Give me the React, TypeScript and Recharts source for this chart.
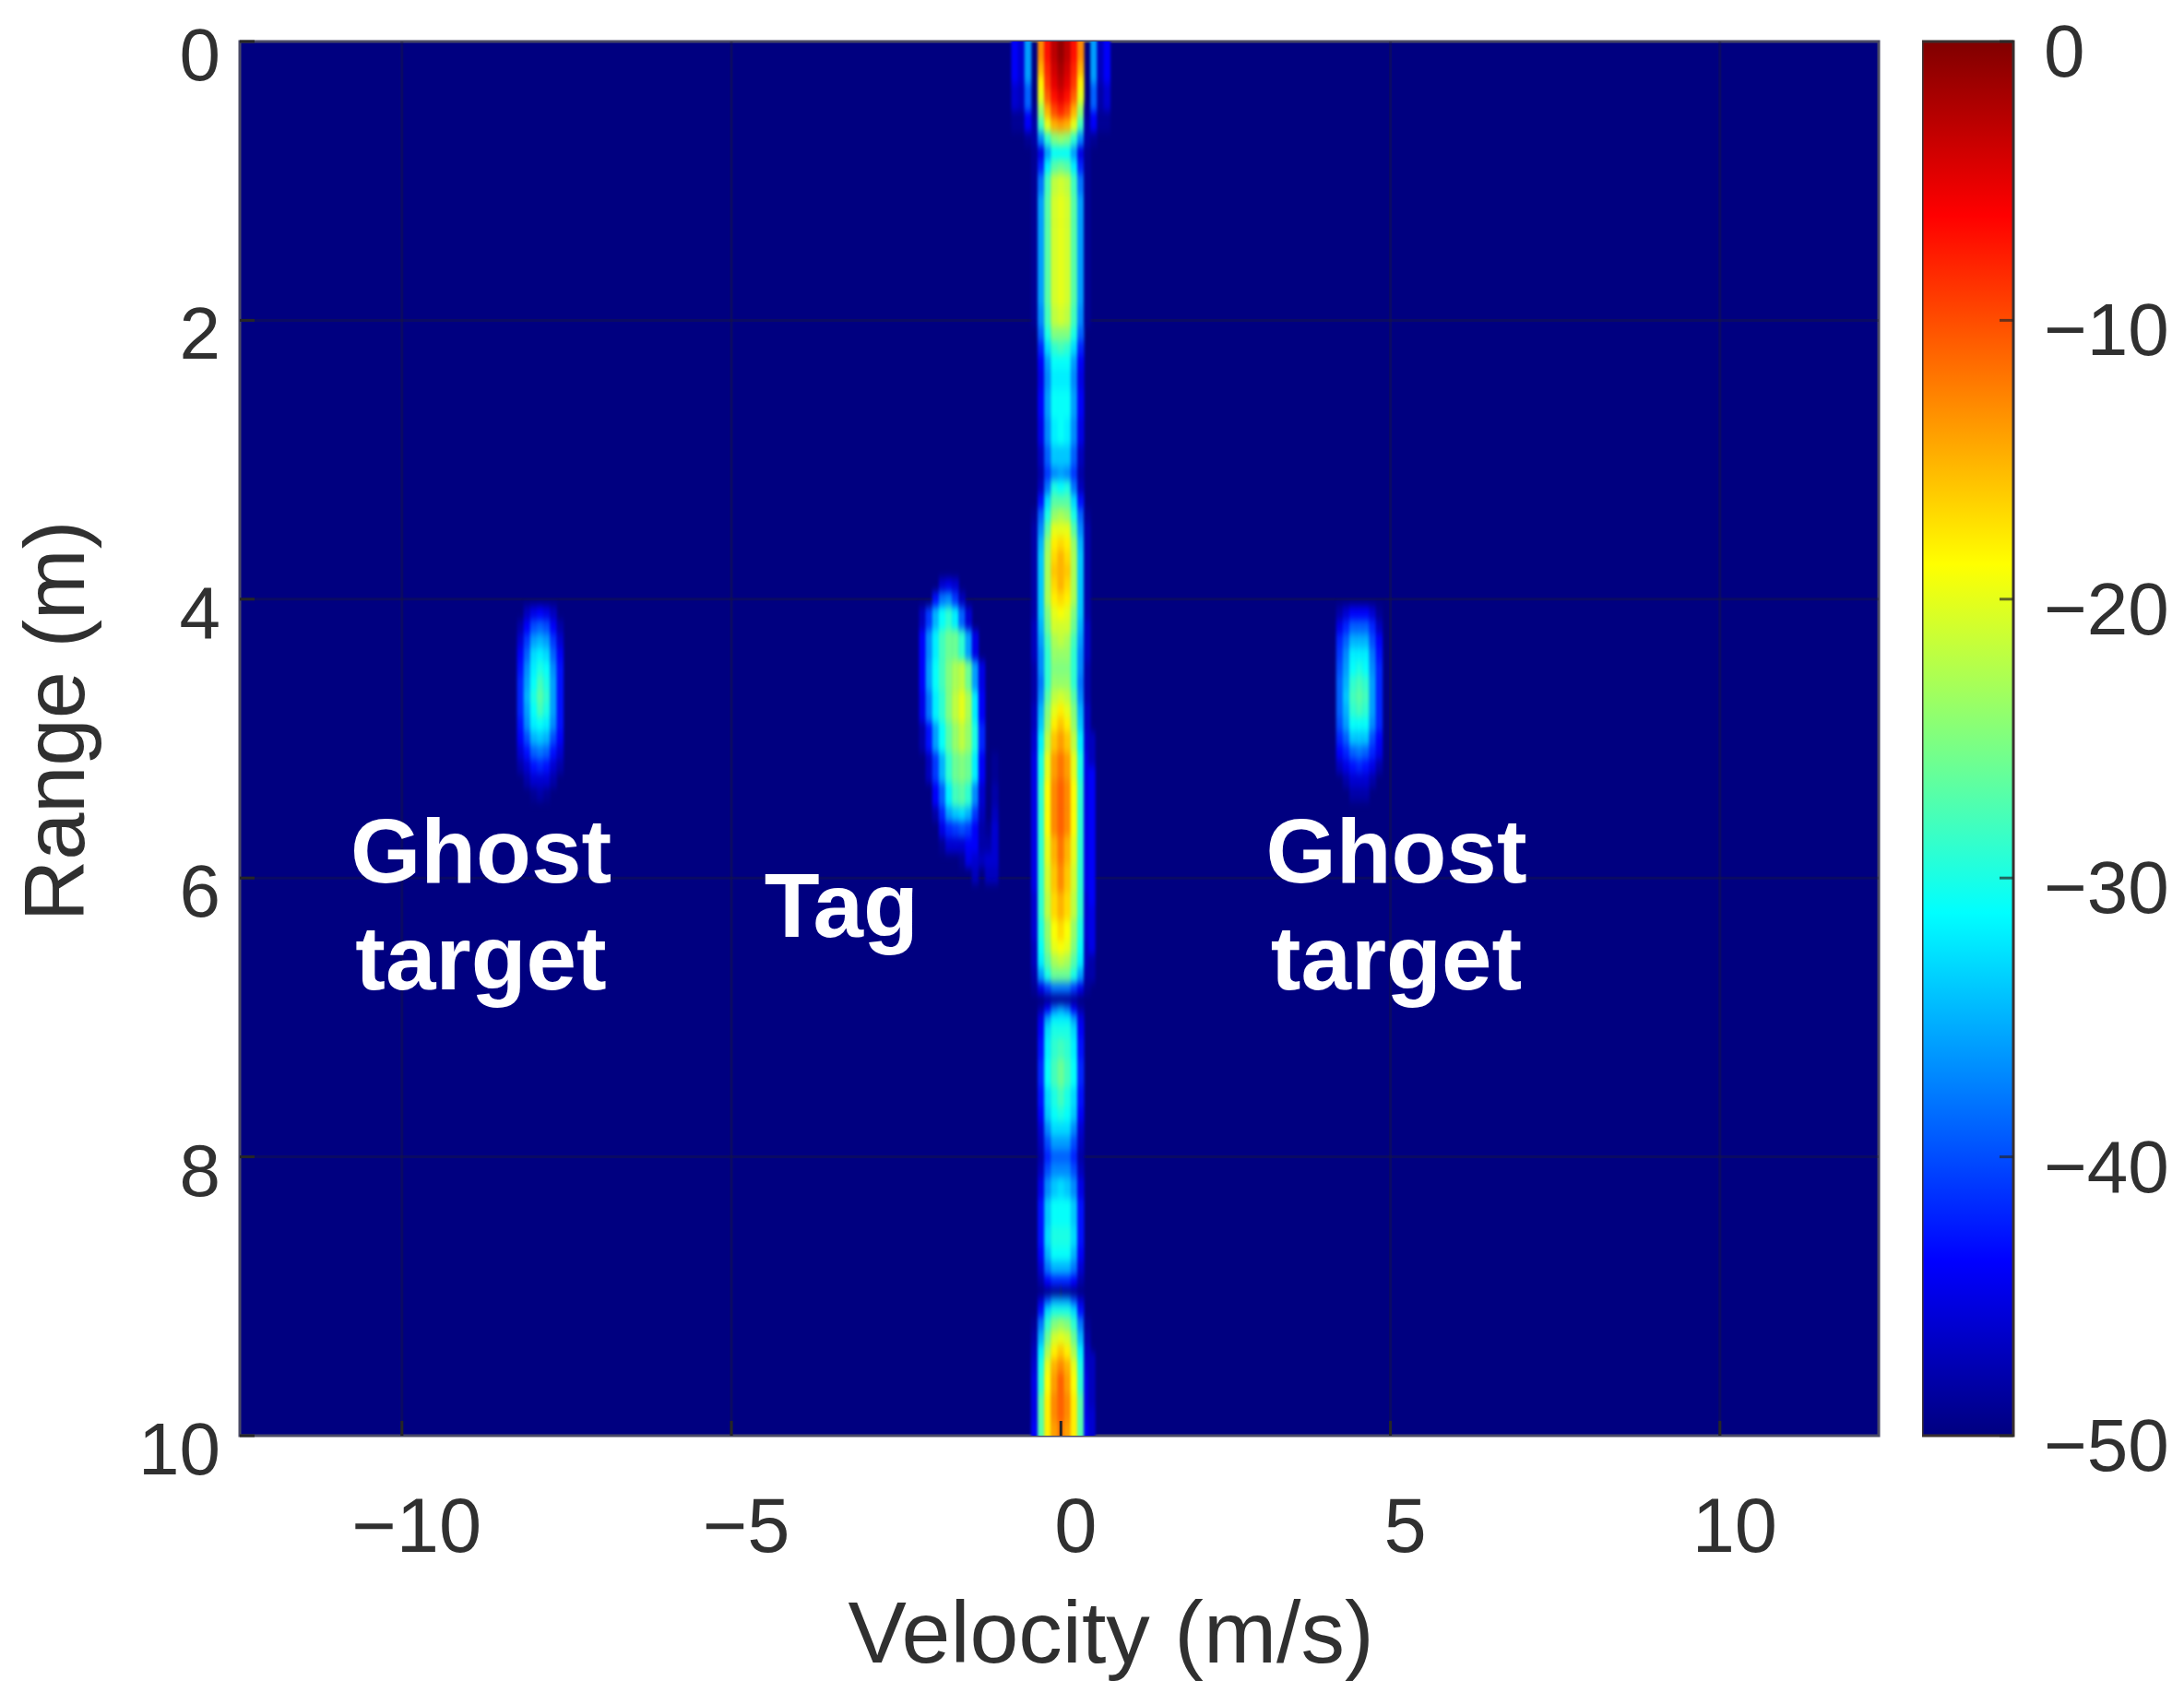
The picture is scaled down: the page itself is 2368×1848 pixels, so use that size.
import {
  Bar,
  BarChart,
  CartesianGrid,
  Label,
  ReferenceArea,
  ReferenceLine,
  Scatter,
  ScatterChart,
  XAxis,
  YAxis,
} from "recharts";

const WIDTH = 2368;
const HEIGHT = 1848;
const PLOT = { left: 260, right: 2037, top: 45, bottom: 1557 };

const velocityDomain = [-12.46, 12.41];
const rangeDomain = [0, 10];
const velocityTicks = [-10, -5, 0, 5, 10];
const rangeTicks = [0, 2, 4, 6, 8, 10];
const dbTicks = [0, -10, -20, -30, -40, -50];

// stationary clutter ridge along zero velocity
const centreVelocities = [-0.4, -0.3, -0.2, -0.1, 0, 0.1, 0.2, 0.3, 0.4];
const centreRanges = [
  0, 0.1, 0.2, 0.3, 0.4, 0.5, 0.6, 0.7, 0.8, 0.9, 1.0, 1.2, 1.4, 1.6, 1.8, 2.0, 2.1, 2.2, 2.3, 2.4,
  2.6, 2.8, 3.0, 3.1, 3.2, 3.3, 3.4, 3.5, 3.6, 3.7, 3.8, 3.9, 4.0, 4.1, 4.2, 4.3, 4.4, 4.5, 4.6,
  4.7, 4.8, 4.9, 5.0, 5.2, 5.4, 5.6, 5.8, 6.0, 6.2, 6.4, 6.5, 6.6, 6.7, 6.8, 6.87, 6.95, 7.0, 7.1,
  7.2, 7.4, 7.6, 7.7, 7.8, 7.9, 8.0, 8.1, 8.2, 8.4, 8.6, 8.7, 8.8, 8.9, 8.97, 9.03, 9.1, 9.2, 9.3,
  9.4, 9.5, 9.6, 9.8, 10,
];
const centreDb = [
  [-50, -13, -7, -3, -1, -3, -7, -13, -50],
  [-50, -13, -7, -3, -1, -3, -7, -13, -50],
  [-50, -15, -8, -4, -2, -4, -8, -15, -50],
  [-50, -18, -9, -5, -3, -5, -9, -18, -50],
  [-50, -20, -11, -7, -5, -7, -11, -20, -50],
  [-49, -24, -15, -10, -8, -10, -15, -24, -49],
  [-48, -28, -20, -15, -14, -15, -20, -28, -48],
  [-48, -37, -29, -25, -24, -25, -29, -37, -48],
  [-49, -45, -36, -31, -31, -31, -36, -45, -49],
  [-49, -42, -32, -27, -26, -27, -32, -42, -49],
  [-49, -38, -28, -22, -21, -22, -28, -38, -49],
  [-49, -36, -27, -21, -20, -21, -27, -36, -49],
  [-49, -36, -27, -21, -20, -21, -27, -36, -49],
  [-49, -36, -27, -21, -20, -21, -27, -36, -49],
  [-49, -36, -27, -21, -20, -21, -27, -36, -49],
  [-49, -37, -28, -22, -21, -22, -28, -37, -49],
  [-50, -39, -30, -25, -25, -25, -30, -39, -50],
  [-50, -42, -33, -29, -28, -29, -33, -42, -50],
  [-50, -44, -36, -31, -31, -31, -36, -44, -50],
  [-50, -45, -37, -32, -32, -32, -37, -45, -50],
  [-50, -44, -36, -31, -31, -31, -36, -44, -50],
  [-50, -45, -37, -32, -31, -32, -37, -45, -50],
  [-50, -47, -39, -34, -34, -34, -39, -47, -50],
  [-50, -48, -41, -37, -36, -37, -41, -48, -50],
  [-50, -47, -38, -30, -31, -30, -38, -47, -50],
  [-50, -43, -33, -27, -27, -27, -33, -43, -50],
  [-49, -39, -30, -24, -23, -24, -30, -39, -49],
  [-48, -37, -27, -20, -20, -20, -27, -37, -48],
  [-48, -35, -24, -18, -17, -18, -24, -35, -48],
  [-48, -34, -23, -17, -15, -17, -23, -34, -48],
  [-48, -34, -23, -16, -15, -16, -23, -34, -48],
  [-48, -34, -23, -17, -15, -17, -23, -34, -48],
  [-48, -34, -23, -18, -17, -18, -23, -34, -48],
  [-48, -34, -25, -20, -19, -20, -25, -34, -48],
  [-47, -35, -26, -21, -21, -21, -26, -35, -47],
  [-47, -36, -28, -23, -22, -23, -28, -36, -47],
  [-47, -37, -29, -24, -24, -24, -29, -37, -47],
  [-48, -37, -29, -25, -25, -25, -29, -37, -48],
  [-48, -38, -29, -24, -24, -24, -29, -38, -48],
  [-48, -37, -27, -22, -21, -22, -27, -37, -48],
  [-47, -35, -25, -20, -18, -20, -25, -35, -47],
  [-47, -34, -24, -18, -16, -18, -24, -34, -47],
  [-46, -32, -22, -16, -14, -16, -22, -32, -46],
  [-45, -30, -20, -14, -12, -14, -20, -30, -45],
  [-45, -29, -19, -13, -11, -13, -19, -29, -45],
  [-45, -29, -19, -13, -11, -13, -19, -29, -45],
  [-45, -29, -20, -15, -12, -15, -20, -29, -45],
  [-45, -29, -21, -16, -13, -16, -21, -29, -45],
  [-46, -29, -22, -17, -15, -17, -22, -29, -46],
  [-46, -30, -24, -19, -17, -19, -24, -30, -46],
  [-47, -31, -25, -20, -19, -20, -25, -31, -47],
  [-47, -32, -27, -23, -22, -23, -27, -32, -47],
  [-48, -36, -30, -26, -26, -26, -30, -36, -48],
  [-49, -45, -41, -38, -38, -38, -41, -45, -49],
  [-50, -50, -49, -49, -49, -49, -49, -50, -50],
  [-50, -48, -44, -38, -36, -38, -44, -48, -50],
  [-50, -45, -36, -32, -32, -32, -36, -45, -50],
  [-50, -44, -33, -30, -30, -30, -33, -44, -50],
  [-50, -43, -32, -29, -28, -29, -32, -43, -50],
  [-50, -42, -31, -28, -26, -28, -31, -42, -50],
  [-50, -43, -33, -30, -28, -30, -33, -43, -50],
  [-50, -44, -34, -31, -30, -31, -34, -44, -50],
  [-50, -46, -37, -33, -33, -33, -37, -46, -50],
  [-50, -47, -40, -36, -36, -36, -40, -47, -50],
  [-50, -48, -42, -39, -39, -39, -42, -48, -50],
  [-50, -47, -40, -37, -37, -37, -40, -47, -50],
  [-50, -45, -37, -34, -33, -34, -37, -45, -50],
  [-50, -43, -34, -31, -31, -31, -34, -43, -50],
  [-50, -43, -33, -30, -30, -30, -33, -43, -50],
  [-50, -44, -35, -31, -31, -31, -35, -44, -50],
  [-50, -46, -38, -35, -35, -35, -38, -46, -50],
  [-50, -48, -44, -42, -42, -42, -44, -48, -50],
  [-50, -50, -50, -50, -50, -50, -50, -50, -50],
  [-50, -46, -40, -36, -36, -36, -40, -46, -50],
  [-50, -43, -33, -30, -30, -30, -33, -43, -50],
  [-49, -38, -29, -25, -24, -25, -29, -38, -49],
  [-48, -35, -26, -21, -20, -21, -26, -35, -48],
  [-47, -32, -23, -18, -16, -18, -23, -32, -47],
  [-46, -30, -20, -15, -13, -15, -20, -30, -46],
  [-45, -29, -19, -14, -11, -14, -19, -29, -45],
  [-45, -27, -18, -13, -11, -13, -18, -27, -45],
  [-44, -27, -18, -14, -12, -14, -18, -27, -44],
];

// faint side lobes next to the ridge
const sideVelocities = [-0.7, -0.6, -0.5, 0.5, 0.6, 0.7];
const sideRanges = [0, 0.2, 0.4, 0.6, 0.7];
const sideDb = [
  [-44, -46, -36, -36, -47, -44],
  [-44, -46, -36, -36, -47, -44],
  [-46, -47, -39, -39, -48, -46],
  [-49, -49, -44, -44, -49, -49],
  [-50, -50, -49, -49, -50, -50],
];
const rightEdgeVelocities = [0.47];
const rightEdgeRanges = [4.9, 5.0, 5.4, 6.0, 6.4, 6.7, 6.8, 9.2, 9.6, 10];
const rightEdgeDb = [[-50], [-47], [-44], [-44], [-45], [-48], [-50], [-50], [-47], [-46]];

// the two ghost targets
const ghostLeftVelocities = [-8.2, -8.1, -8.0, -7.9, -7.8, -7.7, -7.6];
const ghostRightVelocities = [4.23, 4.33, 4.43, 4.53, 4.63, 4.73, 4.83];
const ghostRanges = [4.0, 4.1, 4.2, 4.3, 4.4, 4.5, 4.6, 4.7, 4.8, 4.9, 5.0, 5.1, 5.2, 5.3, 5.4, 5.5];
const ghostLeftDb = [
  [-50, -50, -50, -50, -50, -50, -50],
  [-50, -47, -45, -44, -45, -47, -50],
  [-48, -44, -40, -39, -40, -44, -48],
  [-46, -41, -36, -35, -36, -41, -46],
  [-44, -39, -33, -32, -33, -39, -44],
  [-43, -37, -32, -30, -31, -37, -43],
  [-42, -36, -31, -28, -30, -36, -43],
  [-42, -35, -30, -27, -29, -36, -43],
  [-42, -36, -31, -28, -30, -36, -43],
  [-43, -37, -32, -31, -32, -37, -43],
  [-44, -40, -35, -34, -35, -40, -44],
  [-46, -43, -39, -38, -39, -43, -46],
  [-48, -46, -43, -42, -43, -46, -48],
  [-50, -48, -46, -46, -46, -48, -50],
  [-50, -50, -49, -48, -49, -50, -50],
  [-50, -50, -50, -50, -50, -50, -50],
];
const ghostRightDb = [
  [-50, -50, -50, -50, -50, -50, -50],
  [-48, -46, -44, -44, -44, -46, -49],
  [-45, -42, -39, -39, -39, -42, -47],
  [-42, -39, -35, -35, -35, -40, -44],
  [-41, -37, -32, -32, -32, -38, -43],
  [-40, -36, -31, -30, -31, -37, -42],
  [-39, -35, -29, -28, -29, -36, -42],
  [-39, -34, -28, -27, -28, -36, -42],
  [-39, -35, -29, -28, -29, -36, -42],
  [-40, -36, -31, -31, -31, -37, -42],
  [-42, -39, -34, -34, -34, -40, -44],
  [-44, -42, -39, -38, -39, -42, -45],
  [-47, -45, -43, -42, -43, -45, -48],
  [-50, -48, -46, -46, -46, -48, -50],
  [-50, -50, -48, -48, -48, -50, -50],
  [-50, -50, -50, -50, -50, -50, -50],
];

// the tag return, tilted towards zero velocity
const tagVelocities = [-2.1, -2.0, -1.9, -1.8, -1.7, -1.6, -1.5, -1.4, -1.3, -1.2, -1.1, -1.0];
const tagRanges = [3.8, 3.9, 4.0, 4.11, 4.33, 4.55, 4.77, 5.0, 5.2, 5.44, 5.54, 5.65, 5.77, 5.87, 5.98, 6.1];
const tagDb = [
  [-50, -50, -50, -50, -50, -50, -50, -50, -50, -50, -50, -50],
  [-50, -50, -50, -46, -45, -46, -50, -50, -50, -50, -50, -50],
  [-50, -50, -43, -38, -37, -41, -47, -50, -50, -50, -50, -50],
  [-47, -41, -35, -31, -29, -32, -39, -46, -50, -50, -50, -50],
  [-44, -37, -32, -28, -26, -26, -29, -36, -45, -50, -50, -50],
  [-44, -36, -31, -28, -25, -23, -22, -26, -36, -45, -50, -50],
  [-45, -38, -32, -29, -25, -22, -20, -23, -32, -44, -50, -50],
  [-48, -43, -36, -31, -27, -24, -22, -24, -30, -42, -50, -50],
  [-50, -47, -41, -35, -29, -26, -25, -26, -32, -44, -50, -49],
  [-50, -50, -44, -39, -32, -28, -27, -29, -37, -46, -50, -48],
  [-50, -50, -48, -42, -36, -34, -33, -35, -41, -47, -50, -47],
  [-50, -50, -50, -45, -42, -41, -40, -41, -44, -48, -49, -46],
  [-50, -50, -50, -49, -46, -46, -46, -44, -44, -48, -48, -46],
  [-50, -50, -50, -50, -50, -50, -49, -45, -46, -47, -46, -46],
  [-50, -50, -50, -50, -50, -50, -50, -50, -47, -50, -47, -47],
  [-50, -50, -50, -50, -50, -50, -50, -50, -50, -50, -50, -50],
];

const annotationLabels = ["Ghost", "target", "Tag", "Ghost", "target"];
const annotationVelocities = [-8.8, -8.8, -3.33, 5.09, 5.09];
const annotationRanges = [6.03, 6.8, 6.42, 6.03, 6.8];

// jet colour stops for the colour bar
const jetStopsDb = [0, -6.25, -18.75, -31.25, -43.75, -50];
const jetStopsColor = ["#800000", "#ff0000", "#ffff00", "#00ffff", "#0000ff", "#000080"];
const colorbarData = [{ name: "dB", span: [-50, 0] }];

const clamp = (n: number) => Math.max(0, Math.min(1, n));
const jet = (db: number) => {
  const t = (db + 50) / 50;
  const r = clamp(1.5 - Math.abs(4 * t - 3));
  const g = clamp(1.5 - Math.abs(4 * t - 2));
  const b = clamp(1.5 - Math.abs(4 * t - 1));
  return `rgb(${Math.round(r * 255)},${Math.round(g * 255)},${Math.round(b * 255)})`;
};

const halfStep = (list: number[], i: number) => {
  const prev = i > 0 ? list[i] - list[i - 1] : list[i + 1] - list[i];
  const next = i < list.length - 1 ? list[i + 1] - list[i] : list[i] - list[i - 1];
  return [prev / 2, next / 2];
};

const buildCells = (velocities: number[], ranges: number[], db: number[][]) =>
  ranges.flatMap((r, i) =>
    velocities.map((v, j) => {
      const [up, down] = halfStep(ranges, i);
      return { v, r: r + (down - up) / 2, h: up + down, db: db[i][j] };
    })
  ).filter((c) => c.db > -50);

const cells = [
  ...buildCells(centreVelocities, centreRanges, centreDb),
  ...buildCells(sideVelocities, sideRanges, sideDb),
  ...buildCells(rightEdgeVelocities, rightEdgeRanges, rightEdgeDb),
  ...buildCells(ghostLeftVelocities, ghostRanges, ghostLeftDb),
  ...buildCells(ghostRightVelocities, ghostRanges, ghostRightDb),
  ...buildCells(tagVelocities, tagRanges, tagDb),
];

const annotations = annotationLabels.map((label, i) => ({
  label,
  v: annotationVelocities[i],
  r: annotationRanges[i],
}));

const pxPerVelocity = (PLOT.right - PLOT.left) / (velocityDomain[1] - velocityDomain[0]);
const pxPerRange = (PLOT.bottom - PLOT.top) / (rangeDomain[1] - rangeDomain[0]);

const HeatCell = (props: any) => {
  const { cx, cy, payload } = props;
  const w = 0.1 * pxPerVelocity + 0.5;
  const h = payload.h * pxPerRange + 0.5;
  return <rect x={cx - w / 2} y={cy - h / 2} width={w} height={h} fill={jet(payload.db)} />;
};

const Annotation = (props: any) => (
  <text
    x={props.cx}
    y={props.cy}
    textAnchor="middle"
    fill="#ffffff"
    fontSize={98}
    fontWeight="bold"
    fontFamily="Liberation Sans"
  >
    {props.payload.label}
  </text>
);

const minus = (n: number) => String(n).replace("-", "\u2212");
const TEXT = "#303030";
const FONT = "Liberation Sans";

const VelocityTick = (props: any) => {
  const { x, y, payload } = props;
  return (
    <g>
      <line x1={x} x2={x} y1={y} y2={y - 16} stroke="#262626" strokeWidth={3} />
      <text x={x + 16} y={y + 126} textAnchor="middle" fontSize={83} fontFamily={FONT} fill={TEXT}>
        {minus(payload.value)}
      </text>
    </g>
  );
};

const RangeTick = (props: any) => {
  const { x, y, payload } = props;
  return (
    <g>
      <line x1={x} x2={x + 16} y1={y} y2={y} stroke="#262626" strokeWidth={3} />
      <text x={x - 21} y={y + 42} textAnchor="end" fontSize={80} fontFamily={FONT} fill={TEXT}>
        {payload.value}
      </text>
    </g>
  );
};

const DbTick = (props: any) => {
  const { x, y, payload } = props;
  return (
    <g>
      <line x1={x} x2={x - 15} y1={y} y2={y} stroke="#262626" strokeOpacity={0.7} strokeWidth={3} />
      <text x={x + 33} y={y + 38} textAnchor="start" fontSize={80} fontFamily={FONT} fill={TEXT}>
        {minus(payload.value)}
      </text>
    </g>
  );
};

export default function App() {
  return (
    <div
      style={{
        position: "absolute",
        left: 0,
        top: 0,
        width: WIDTH,
        height: HEIGHT,
        background: "#ffffff",
        filter: "blur(0.6px)",
      }}
    >
      <style>{`.heat { filter: url(#smooth); }`}</style>
      <div style={{ position: "absolute", left: 0, top: 0 }}>
        <ScatterChart
          width={WIDTH}
          height={HEIGHT}
          margin={{ top: PLOT.top, right: WIDTH - PLOT.right, bottom: 0, left: 0 }}
        >
          <defs>
            <filter
              id="smooth"
              filterUnits="userSpaceOnUse"
              x={0}
              y={0}
              width={WIDTH}
              height={HEIGHT}
              colorInterpolationFilters="sRGB"
            >
              <feGaussianBlur stdDeviation="1.6 5" />
            </filter>
          </defs>
          <CartesianGrid horizontal={false} vertical={false} fill="#000080" fillOpacity={1} />
          <XAxis
            type="number"
            dataKey="v"
            domain={velocityDomain}
            ticks={velocityTicks}
            allowDataOverflow
            height={HEIGHT - PLOT.bottom}
            tickSize={0}
            tickMargin={0}
            axisLine={false}
            tickLine={false}
            tick={<VelocityTick />}
            interval={0}
          >
            <Label
              value="Velocity (m/s)"
              position="insideBottom"
              offset={45}
              dx={56}
              fontSize={95}
              fontFamily={FONT}
              fill={TEXT}
            />
          </XAxis>
          <YAxis
            type="number"
            dataKey="r"
            domain={rangeDomain}
            ticks={rangeTicks}
            reversed
            allowDataOverflow
            width={PLOT.left}
            tickSize={0}
            tickMargin={0}
            axisLine={false}
            tickLine={false}
            tick={<RangeTick />}
            interval={0}
          >
            <Label
              value="Range (m)"
              position="insideLeft"
              angle={-90}
              offset={58}
              dy={-19}
              fontSize={92}
              fontFamily={FONT}
              fill={TEXT}
              style={{ textAnchor: "middle" }}
            />
          </YAxis>
          <Scatter className="heat" data={cells} shape={<HeatCell />} isAnimationActive={false} />
          {velocityTicks.map((v) => (
            <ReferenceLine key={v} x={v} stroke="#202020" strokeOpacity={0.3} strokeWidth={3} />
          ))}
          {rangeTicks.slice(1, -1).map((r) => (
            <ReferenceLine key={r} y={r} stroke="#202020" strokeOpacity={0.3} strokeWidth={3} />
          ))}
          <ReferenceArea
            x1={velocityDomain[0]}
            x2={velocityDomain[1]}
            y1={rangeDomain[0]}
            y2={rangeDomain[1]}
            fill="none"
            stroke="#4a4a66"
            strokeWidth={3}
          />
          <Scatter data={annotations} shape={<Annotation />} isAnimationActive={false} />
        </ScatterChart>
      </div>
      <div style={{ position: "absolute", left: 2084, top: 0 }}>
        <BarChart
          width={WIDTH - 2084}
          height={HEIGHT}
          data={colorbarData}
          barCategoryGap={0}
          margin={{ top: PLOT.top, right: 0, bottom: HEIGHT - PLOT.bottom, left: 0 }}
        >
          <defs>
            <linearGradient id="jetBar" x1="0" y1="0" x2="0" y2="1">
              {jetStopsDb.map((db, i) => (
                <stop key={db} offset={-db / 50} stopColor={jetStopsColor[i]} />
              ))}
            </linearGradient>
          </defs>
          <XAxis dataKey="name" hide />
          <YAxis
            orientation="right"
            type="number"
            domain={[-50, 0]}
            ticks={dbTicks}
            width={WIDTH - 2183}
            tickSize={0}
            tickMargin={0}
            axisLine={false}
            tickLine={false}
            tick={<DbTick />}
            interval={0}
          />
          <Bar
            dataKey="span"
            fill="url(#jetBar)"
            stroke="#3a3030"
            strokeWidth={3}
            isAnimationActive={false}
          />
        </BarChart>
      </div>
    </div>
  );
}
